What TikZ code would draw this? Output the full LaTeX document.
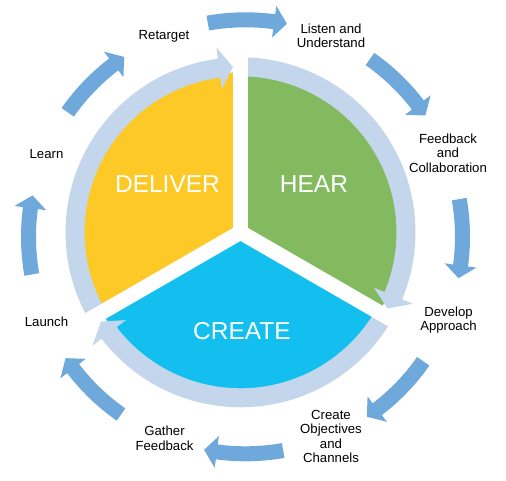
\documentclass[tikz,border=0pt]{standalone}
\usepackage{fontspec}
\setmainfont{Liberation Sans}
\definecolor{cyel}{HTML}{FDC926}
\definecolor{cgrn}{HTML}{83BA60}
\definecolor{ccyn}{HTML}{12BFEF}
\definecolor{cring}{HTML}{C4D6EC}
\definecolor{carr}{HTML}{6FA9DC}
% #1 colour, #2 mid radius, #3 body half width, #4 head half width,
% #5 start angle, #6 head base angle, #7 tip angle
\newcommand{\ArcArrow}[7]{%
  \pgfmathsetmacro{\aaRo}{#2+#3}\pgfmathsetmacro{\aaRi}{#2-#3}%
  \pgfmathsetmacro{\aaHo}{#2+#4}\pgfmathsetmacro{\aaHi}{#2-#4}%
  \pgfmathsetmacro{\aaS}{#5}\pgfmathsetmacro{\aaB}{#6}\pgfmathsetmacro{\aaT}{#7}%
  \fill[#1] (\aaS:\aaRo) arc[start angle=\aaS, end angle=\aaB, radius=\aaRo]
    -- (\aaB:\aaHo) -- (\aaT:#2) -- (\aaB:\aaHi) -- (\aaB:\aaRi)
    arc[start angle=\aaB, end angle=\aaS, radius=\aaRi] -- cycle;%
}
\tikzset{
  lbl/.style={align=center, text=black, inner sep=0pt, font=\fontsize{13.2}{14.5}\selectfont},
  big/.style={text=white, inner sep=0pt, font=\fontsize{24.5}{28}\selectfont}
}
\begin{document}
\begin{tikzpicture}[x=1pt,y=1pt]
\useasboundingbox (0,0) rectangle (506,480);
\fill[white] (0,0) rectangle (506,480);
% sectors and inner ring
\begin{scope}[shift={(240.5,247.7)}]
  \fill[cyel] (0,0) -- (90:160) arc[start angle=90, end angle=210, radius=160] -- cycle;
  \fill[cgrn] (0,0) -- (-30:160) arc[start angle=-30, end angle=90, radius=160] -- cycle;
  \fill[ccyn] (0,0) -- (210:160) arc[start angle=210, end angle=330, radius=160] -- cycle;
  \ArcArrow{cring}{165.5}{9.5}{21}{210}{97.45}{92.6}
  \ArcArrow{cring}{165.5}{9.5}{21}{90}{-22.55}{-27.4}
  \ArcArrow{cring}{165.5}{9.5}{21}{-30}{-142.55}{-147.4}
  \foreach \a in {90,210,330} \draw[white, line width=15pt] (0,0) -- (\a:192);
\end{scope}
% outer arrows
\begin{scope}[shift={(245.5,243.2)}]
  \foreach \t in {90,45,0,-45,-90,-135,-180,-225} {
    \ArcArrow{carr}{217}{7.5}{16}{\t+10}{\t-7.6}{\t-11}
  }
\end{scope}
% labels
\node[big] (deliver) at (167.5,296) {DELIVER};
\node[big] (hear) at (314,296) {HEAR};
\node[big] (create) at (242,149) {CREATE};
\node[lbl] (retarget) at (164,444) {Retarget};
\node[lbl] (listen) at (331,444) {Listen and\\Understand};
\node[lbl] (feedback) at (448,327) {Feedback\\and\\Collaboration};
\node[lbl] (develop) at (448.5,160) {Develop\\Approach};
\node[lbl] (objectives) at (331,43.5) {Create\\Objectives\\and\\Channels};
\node[lbl] (gather) at (164.5,41.5) {Gather\\Feedback};
\node[lbl] (launch) at (46.5,158) {Launch};
\node[lbl] (learn) at (46.5,326) {Learn};
\end{tikzpicture}
\end{document}
